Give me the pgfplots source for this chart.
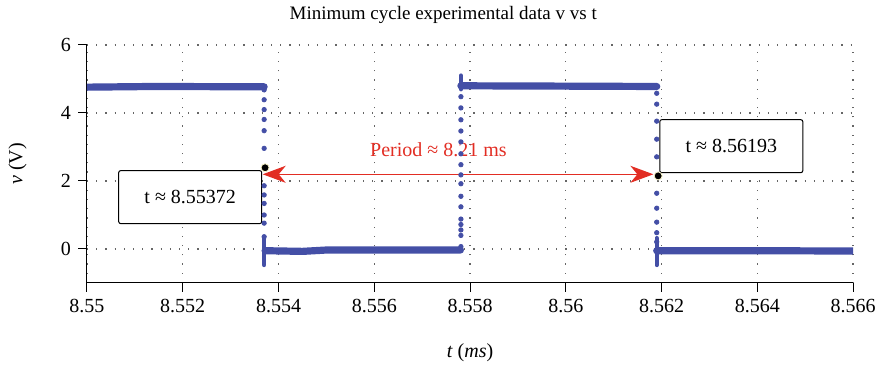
\documentclass[border=0pt]{standalone}
\usepackage{pgfplots}
\pgfplotsset{compat=1.18}
\usepackage{fontspec}
\setmainfont{Liberation Serif}
\usetikzlibrary{arrows.meta}
\definecolor{dblue}{RGB}{68,79,166}
\definecolor{pred}{RGB}{226,45,35}
\begin{document}
\begin{tikzpicture}
\begin{axis}[
  scale only axis, width=383pt, height=119pt,
  xmin=8.55, xmax=8.566, ymin=-1, ymax=6,
  axis lines*=left,
  xtick={8.550,8.552,8.554,8.556,8.558,8.560,8.562,8.564,8.566},
  xticklabels={8.55,8.552,8.554,8.556,8.558,8.56,8.562,8.564,8.566},
  ytick={0,2,4,6},
  tick align=outside, major tick length=4.5pt,
  tick style={black, line width=0.5pt},
  axis line style={line width=0.5pt},
  grid=major,
  grid style={black!60, line width=0.6pt, dash pattern=on 0.6pt off 4pt},
  ticklabel style={font=\fontsize{10}{12}\selectfont},
  /pgf/number format/assume math mode=true,
  title={Minimum cycle experimental data v vs t},
  title style={font=\fontsize{9.5}{11}\selectfont, at={(axis description cs:0.465,1)}, anchor=center, yshift=9pt},
  xlabel={\textit{t} (\textit{ms})},
  ylabel={\textit{v} (V)},
  label style={font=\fontsize{10}{12}\selectfont},
  xlabel style={at={(axis description cs:0.5,0)}, anchor=center, yshift=-35pt},
  ylabel style={at={(axis description cs:-0.0907,0.5)}, anchor=center},
]
% levels
\addplot[dblue, line width=3.6pt, line cap=round] coordinates {(8.5500,4.76)(8.5514,4.78)(8.5537,4.77)};
\addplot[dblue, line width=3.6pt, line cap=round] coordinates {(8.55372,-0.05)(8.5545,-0.07)(8.5550,-0.03)(8.5578,-0.03)};
\addplot[dblue, line width=3.6pt, line cap=round] coordinates {(8.55781,4.80)(8.5600,4.79)(8.5619,4.78)};
\addplot[dblue, line width=3.6pt, line cap=round] coordinates {(8.5619,-0.05)(8.5640,-0.05)(8.5660,-0.06)};
% spikes
\addplot[dblue, line width=2.2pt, line cap=round] coordinates {(8.55370,0.36)(8.55370,-0.47)};
\addplot[dblue, line width=2.2pt, line cap=round] coordinates {(8.55781,4.70)(8.55781,5.10)};
\addplot[dblue, line width=2.2pt, line cap=round] coordinates {(8.56190,0.32)(8.56190,-0.47)};
% edge dots
\addplot[only marks, mark=*, mark size=1.1pt, dblue] coordinates {
 (8.55370,4.68)(8.55370,4.39)(8.55370,4.10)(8.55370,3.81)(8.55370,3.48)(8.55370,2.96)
 (8.55370,1.86)(8.55370,1.59)(8.55370,1.34)(8.55370,1.00)(8.55370,0.76)(8.55370,0.36)};
\addplot[only marks, mark=*, mark size=1.1pt, dblue] coordinates {
 (8.55781,0.07)(8.55781,0.40)(8.55781,0.56)(8.55781,0.72)(8.55781,0.88)(8.55781,1.24)
 (8.55781,1.55)(8.55781,1.92)(8.55781,2.18)(8.55781,2.48)(8.55781,2.80)(8.55781,3.15)
 (8.55781,3.47)(8.55781,3.80)(8.55781,4.15)(8.55781,4.48)};
\addplot[only marks, mark=*, mark size=1.1pt, dblue] coordinates {
 (8.56190,4.58)(8.56190,4.26)(8.56190,3.76)(8.56190,3.23)(8.56190,2.71)
 (8.56190,1.64)(8.56190,1.20)(8.56190,0.79)(8.56190,0.48)(8.56190,0.21)};
% arrow and text
\draw[pred, line width=0.6pt, {Stealth[length=11.5pt,width=8.5pt,inset=3.5pt]}-{Stealth[length=11.5pt,width=8.5pt,inset=3.5pt]}] (axis cs:8.55367,2.197) -- (axis cs:8.56183,2.197);
\node[pred, font=\fontsize{10}{12}\selectfont] at (axis cs:8.557342,2.91) {Period ≈ 8.21 ms};
% boxes
\node[draw, fill=white, rounded corners=1pt, line width=0.5pt, minimum width=71.5pt, minimum height=26.5pt, anchor=north east, inner sep=0pt, font=\fontsize{10}{12}\selectfont] at (axis cs:8.55366,2.32) {t ≈ 8.55372};
\node[draw, fill=white, rounded corners=1pt, line width=0.5pt, minimum width=71.5pt, minimum height=26.5pt, anchor=south west, inner sep=0pt, font=\fontsize{10}{12}\selectfont] at (axis cs:8.561954,2.23) {t ≈ 8.56193};
% highlighted points
\addplot[only marks, mark=*, mark size=2pt, mark options={fill=black, draw={rgb,255:red,250;green,245;blue,200}, line width=0.4pt}] coordinates {(8.55372,2.39)(8.56193,2.15)};
\end{axis}
\pgfresetboundingbox
\path[use as bounding box] ([shift={(-43.5pt,-42.5pt)}]current axis.south west) rectangle ([shift={(12pt,22.5pt)}]current axis.north east);
\end{tikzpicture}
\end{document}
